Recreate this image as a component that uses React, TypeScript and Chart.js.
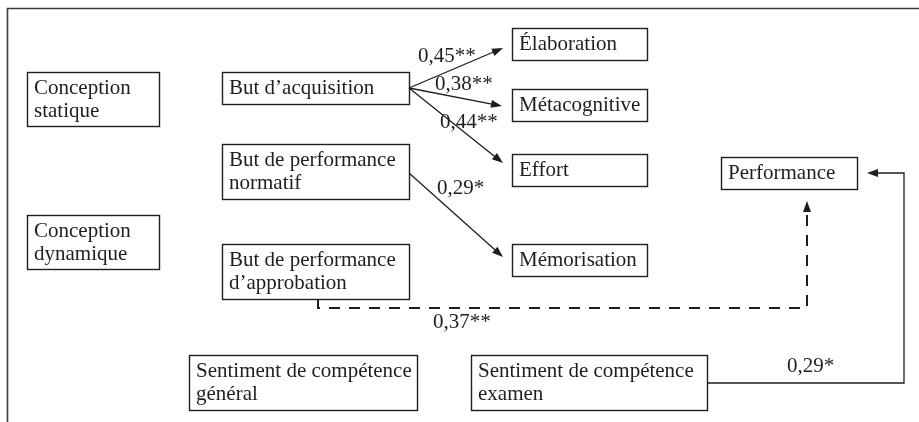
import React, { useEffect, useRef } from "react";
import { Chart, registerables } from "chart.js";

Chart.register(...registerables);

// ---- Data: node labels (path model variables)
const nodeLabels: string[][] = [
  ["Conception", "statique"],
  ["Conception", "dynamique"],
  ["But d’acquisition"],
  ["But de performance", "normatif"],
  ["But de performance", "d’approbation"],
  ["Sentiment de compétence", "général"],
  ["Élaboration"],
  ["Métacognitive"],
  ["Effort"],
  ["Mémorisation"],
  ["Performance"],
  ["Sentiment de compétence", "examen"],
];

// ---- Data: path coefficients
const edgeFrom = [2, 2, 2, 3, 4, 11];
const edgeTo = [6, 7, 8, 9, 10, 10];
const edgeCoefs = ["0,45**", "0,38**", "0,44**", "0,29*", "0,37**", "0,29*"];
const edgeDashed = [false, false, false, false, true, false];

// ---- Layout (diagram units = scale units)
const nodeBoxes: number[][] = [
  [27, 72, 159, 126],
  [27, 215, 159, 269],
  [222, 72, 409, 104],
  [222, 144, 409, 199],
  [222, 244, 409, 299],
  [189, 355, 417, 410],
  [512, 28, 647, 60],
  [512, 89, 647, 121],
  [512, 154, 647, 186],
  [512, 244, 647, 276],
  [721, 157, 857, 189],
  [471, 355, 707, 410],
];
const edgeRoutes: number[][][] = [
  [[409, 88], [503, 48]],
  [[409, 88], [502, 106]],
  [[409, 88], [503, 163]],
  [[409, 173], [503, 257]],
  [[318, 299], [318, 308], [807, 308], [807, 201]],
  [[707, 383], [904, 383], [904, 173], [867, 173]],
];
const edgeLabelPos: number[][] = [
  [418, 62],
  [435, 90],
  [440, 128],
  [437, 194],
  [433, 328],
  [787, 372],
];

const FONT = '21px "Liberation Serif", "DejaVu Serif", serif';
const INK = "#1e1e1e";

const diagramPlugin = {
  id: "pathDiagram",
  afterDatasetsDraw(chart: any) {
    const { ctx, scales } = chart;
    const sx = scales.x;
    const sy = scales.y;
    const px = (v: number) => sx.getPixelForValue(v);
    const py = (v: number) => sy.getPixelForValue(v);

    ctx.save();
    // outer frame (top and left edges)
    ctx.strokeStyle = "#3a3a3a";
    ctx.lineWidth = 1.6;
    ctx.beginPath();
    ctx.moveTo(px(919), py(8.5));
    ctx.lineTo(px(7.5), py(8.5));
    ctx.lineTo(px(7.5), py(422));
    ctx.stroke();

    // boxes + labels
    ctx.font = FONT;
    ctx.textBaseline = "alphabetic";
    ctx.textAlign = "left";
    nodeBoxes.forEach((b, i) => {
      const x0 = px(b[0]) + 0.5;
      const y0 = py(b[1]) + 0.5;
      const x1 = px(b[2]) + 0.5;
      const y1 = py(b[3]) + 0.5;
      ctx.strokeStyle = INK;
      ctx.lineWidth = 1.4;
      ctx.strokeRect(x0, y0, x1 - x0, y1 - y0);
      ctx.fillStyle = INK;
      nodeLabels[i].forEach((line, k) => {
        ctx.fillText(line, x0 + 6.5, y0 + 21.5 + k * 22.5);
      });
    });

    // edges
    edgeRoutes.forEach((route, i) => {
      const pts = route.map((p) => [px(p[0]), py(p[1])]);
      ctx.strokeStyle = INK;
      ctx.fillStyle = INK;
      if (edgeDashed[i]) {
        ctx.lineWidth = 2;
        ctx.setLineDash([11, 9]);
      } else {
        ctx.lineWidth = 1.3;
        ctx.setLineDash([]);
      }
      const n = pts.length;
      const [tx, ty] = pts[n - 1];
      const [sx0, sy0] = pts[n - 2];
      const ang = Math.atan2(ty - sy0, tx - sx0);
      const headLen = 11;
      const headW = 4;
      ctx.beginPath();
      ctx.moveTo(pts[0][0], pts[0][1]);
      for (let k = 1; k < n - 1; k++) ctx.lineTo(pts[k][0], pts[k][1]);
      ctx.lineTo(tx - Math.cos(ang) * (headLen - 2), ty - Math.sin(ang) * (headLen - 2));
      ctx.stroke();
      ctx.setLineDash([]);
      ctx.beginPath();
      ctx.moveTo(tx, ty);
      ctx.lineTo(
        tx - Math.cos(ang) * headLen - Math.sin(ang) * headW,
        ty - Math.sin(ang) * headLen + Math.cos(ang) * headW
      );
      ctx.lineTo(
        tx - Math.cos(ang) * headLen + Math.sin(ang) * headW,
        ty - Math.sin(ang) * headLen - Math.cos(ang) * headW
      );
      ctx.closePath();
      ctx.fill();

      // coefficient label
      const lp = edgeLabelPos[i];
      ctx.font = FONT;
      ctx.fillStyle = INK;
      ctx.fillText(edgeCoefs[i], px(lp[0]), py(lp[1]));
    });
    ctx.restore();
  },
};

export default function App() {
  const ref = useRef<HTMLCanvasElement | null>(null);

  useEffect(() => {
    if (!ref.current) return;
    const centers = nodeBoxes.map((b, i) => ({
      x: (b[0] + b[2]) / 2,
      y: (b[1] + b[3]) / 2,
      label: nodeLabels[i].join(" "),
    }));
    const chart = new Chart(ref.current, {
      type: "scatter",
      data: {
        datasets: [
          {
            label: "Variables",
            data: centers,
            pointRadius: 0,
            pointHoverRadius: 0,
          },
        ],
      },
      options: {
        animation: false,
        responsive: false,
        maintainAspectRatio: false,
        devicePixelRatio: 1,
        layout: { padding: 0 },
        events: [],
        plugins: {
          legend: { display: false },
          tooltip: { enabled: false },
          title: { display: false },
        },
        scales: {
          x: { type: "linear", min: 0, max: 919, display: false },
          y: { type: "linear", min: 0, max: 422, reverse: true, display: false },
        },
      },
      plugins: [diagramPlugin],
    });
    return () => chart.destroy();
  }, []);

  return (
    <div style={{ position: "absolute", left: 0, top: 0, width: 919, height: 422, background: "#ffffff" }}>
      <canvas ref={ref} width={919} height={422} style={{ display: "block" }} />
    </div>
  );
}
